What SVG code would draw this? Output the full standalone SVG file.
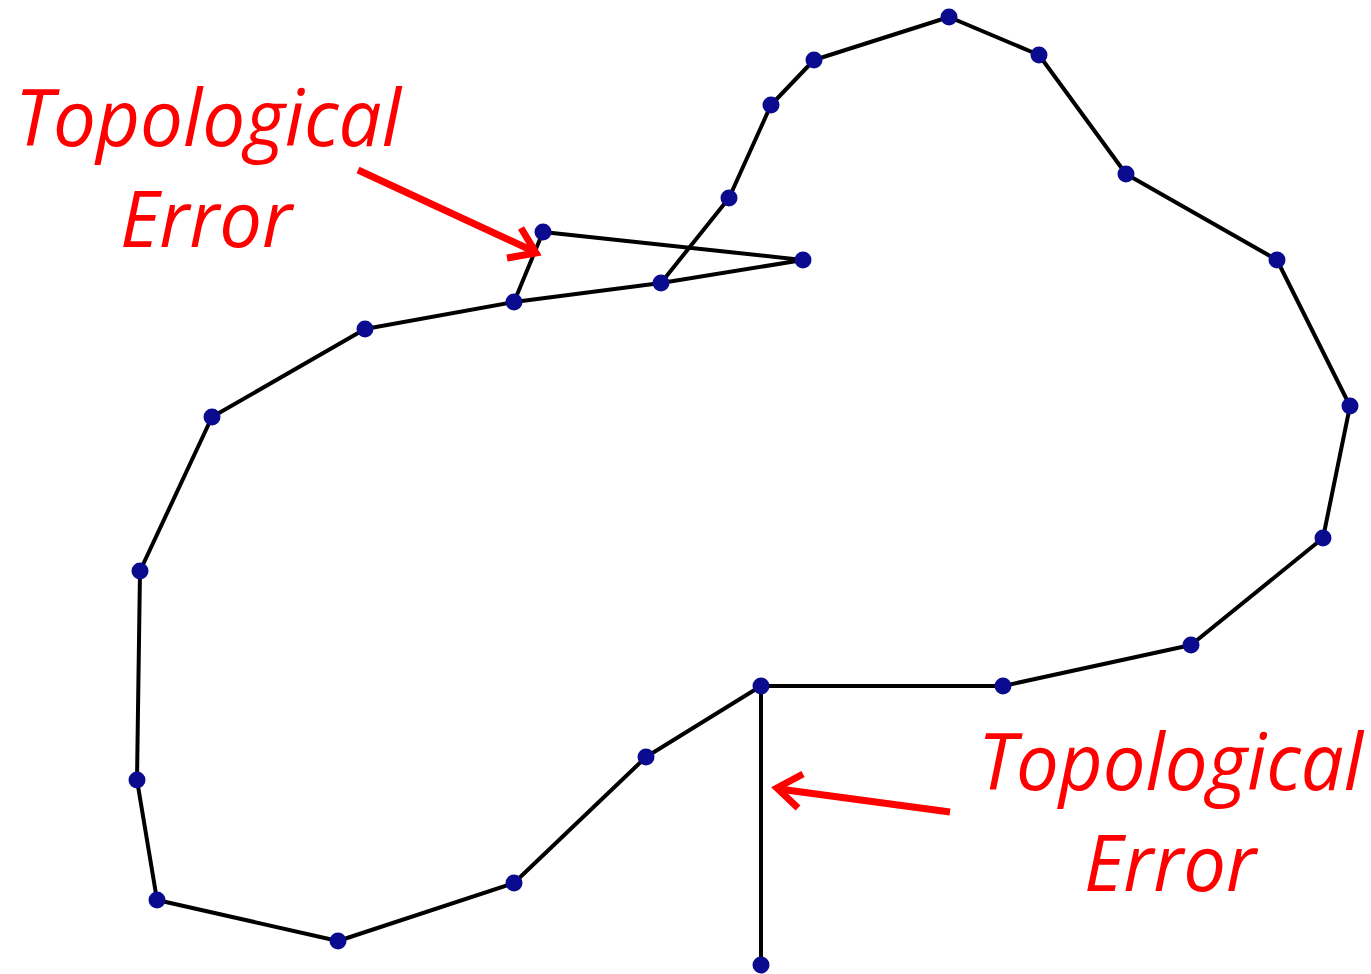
<svg xmlns="http://www.w3.org/2000/svg" width="1371" height="974" viewBox="0 0 1371 974">
<style>
.edge{stroke:#000;stroke-width:4;fill:none;stroke-linejoin:round}
.dot{fill:#0b0b8f}
.lbl{font-family:"Open Sans","Noto Sans","Liberation Sans",sans-serif;font-style:italic;font-size:78px;fill:#ff0000}
.arr{stroke:#ff0000;stroke-width:7;fill:none;stroke-linejoin:miter}
</style>
<rect width="1371" height="974" fill="#fff"/>
<g id="connectors">
<polyline class="edge" points="661,283 729,198 771,105 814,60 949,17 1039,55 1126,174 1277,260 1350,406 1323,538 1191,645 1003,686 761,686 646,757 514,883 338,941 157,900 137,780 140,571 212,417 365,329 514,302 661,283 803,260 543,232 514,302"/>
<line class="edge" x1="761" y1="686" x2="761" y2="965"/>
</g>
<g id="nodes">
<circle class="dot" cx="949" cy="17" r="8.5"/>
<circle class="dot" cx="814" cy="60" r="8.5"/>
<circle class="dot" cx="1039" cy="55" r="8.5"/>
<circle class="dot" cx="771" cy="105" r="8.5"/>
<circle class="dot" cx="1126" cy="174" r="8.5"/>
<circle class="dot" cx="729" cy="198" r="8.5"/>
<circle class="dot" cx="543" cy="232" r="8.5"/>
<circle class="dot" cx="803" cy="260" r="8.5"/>
<circle class="dot" cx="661" cy="283" r="8.5"/>
<circle class="dot" cx="514" cy="302" r="8.5"/>
<circle class="dot" cx="1277" cy="260" r="8.5"/>
<circle class="dot" cx="365" cy="329" r="8.5"/>
<circle class="dot" cx="1350" cy="406" r="8.5"/>
<circle class="dot" cx="212" cy="417" r="8.5"/>
<circle class="dot" cx="1323" cy="538" r="8.5"/>
<circle class="dot" cx="140" cy="571" r="8.5"/>
<circle class="dot" cx="1191" cy="645" r="8.5"/>
<circle class="dot" cx="1003" cy="686" r="8.5"/>
<circle class="dot" cx="761" cy="686" r="8.5"/>
<circle class="dot" cx="646" cy="757" r="8.5"/>
<circle class="dot" cx="137" cy="780" r="8.5"/>
<circle class="dot" cx="514" cy="883" r="8.5"/>
<circle class="dot" cx="157" cy="900" r="8.5"/>
<circle class="dot" cx="338" cy="941" r="8.5"/>
<circle class="dot" cx="761" cy="965" r="8.5"/>
</g>
<g id="label-top">
<text class="lbl" x="15" y="146" textLength="386" lengthAdjust="spacingAndGlyphs">Topological</text>
<text class="lbl" x="120" y="247" textLength="172" lengthAdjust="spacingAndGlyphs">Error</text>
<line class="arr" x1="358" y1="170" x2="533" y2="251"/>
<polyline class="arr" points="521,228 536,253 507,258"/>
</g>
<g id="label-bottom">
<text class="lbl" x="978" y="790" textLength="385" lengthAdjust="spacingAndGlyphs">Topological</text>
<text class="lbl" x="1084" y="891" textLength="172" lengthAdjust="spacingAndGlyphs">Error</text>
<line class="arr" x1="950" y1="812" x2="779" y2="789"/>
<polyline class="arr" points="803,774 777,788 798,808"/>
</g>
</svg>
